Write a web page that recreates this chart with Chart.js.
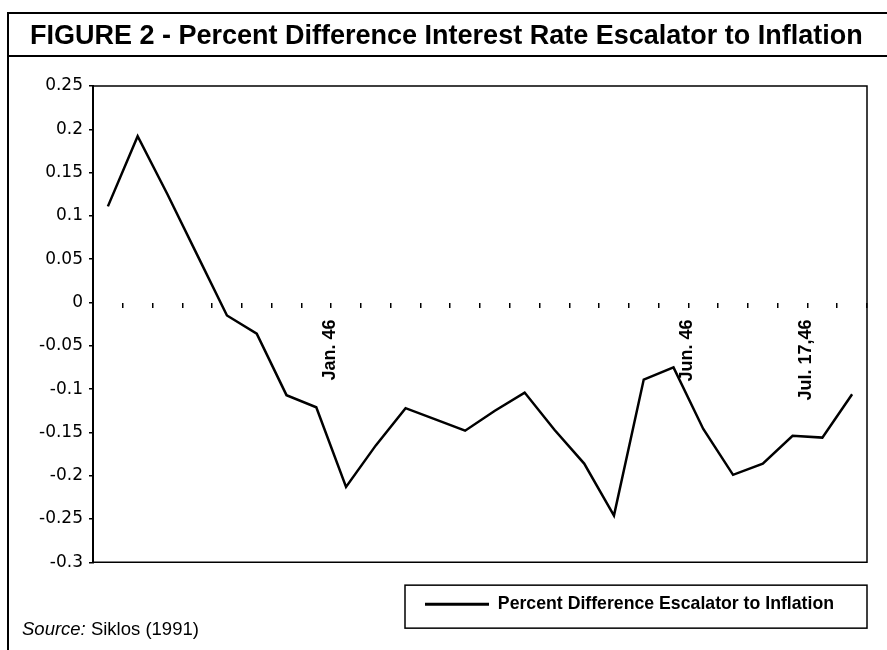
<!DOCTYPE html>
<html>
<head>
<meta charset="utf-8">
<script src="https://cdn.jsdelivr.net/npm/chart.js@4.4.1/dist/chart.umd.min.js"></script>
<style>
  html, body { margin: 0; padding: 0; background: #fff; }
  #wrap { position: relative; width: 887px; height: 650px; overflow: hidden; background: #fff; }
  #c { position: absolute; left: 0; top: 0; }
  .ln { position: absolute; background: #000; }
  #title { position: absolute; left: 30px; top: 22px; font-family: "Liberation Sans", Arial, sans-serif; font-weight: bold; font-size: 27px; line-height: 27px; color: #000; white-space: nowrap; }
  #source { position: absolute; left: 22px; top: 619px; font-family: "Liberation Sans", Arial, sans-serif; font-size: 18.5px; line-height: 19px; color: #000; white-space: nowrap; }
</style>
</head>
<body>
<div id="wrap">
  <canvas id="c" width="887" height="650"></canvas>
  <div class="ln" style="left:8px; top:12px; width:879px; height:2px;"></div>
  <div class="ln" style="left:8px; top:55px; width:879px; height:2px;"></div>
  <div class="ln" style="left:7px; top:12px; width:2px; height:638px;"></div>
  <div id="title">FIGURE 2 - Percent Difference Interest Rate Escalator to Inflation</div>
  <div id="source"><i>Source:</i> Siklos (1991)</div>
</div>
<script>
const categories = ['', '', '', '', '', '', '', '', 'Jan. 46', '', '', '', '', '', '', '', '', '', '', '', 'Jun. 46', '', '', '', 'Jul. 17,46', ''];
const values = [0.111, 0.192, 0.125, 0.055, -0.015, -0.036, -0.107, -0.121, -0.213, -0.165, -0.122, -0.135, -0.148, -0.125, -0.104, -0.147, -0.186, -0.246, -0.089, -0.075, -0.146, -0.199, -0.186, -0.154, -0.156, -0.106];
const seriesName = 'Percent Difference Escalator to Inflation';
const yMin = -0.3, yMax = 0.25, yStep = 0.05;

const frame = {
  id: 'frame',
  afterDraw(chart) {
    const ctx = chart.ctx, a = chart.chartArea;
    ctx.save();
    ctx.strokeStyle = '#000';
    ctx.lineWidth = 1.5;
    ctx.beginPath();
    ctx.moveTo(a.left, a.top); ctx.lineTo(a.right, a.top);
    ctx.lineTo(a.right, a.bottom); ctx.lineTo(a.left, a.bottom);
    ctx.stroke();
    const lg = chart.legend;
    if (lg && lg.legendHitBoxes && lg.legendHitBoxes.length) {
      const hb = lg.legendHitBoxes[0];
      const cy = hb.top + hb.height / 2;
      ctx.lineWidth = 1.5;
      ctx.strokeRect(hb.left - 20, cy - 19, lg.right - (hb.left - 20), 43);
    }
    ctx.restore();
  }
};

new Chart(document.getElementById('c'), {
  type: 'line',
  data: {
    labels: categories,
    datasets: [{
      label: seriesName,
      data: values,
      borderColor: '#000',
      backgroundColor: '#000',
      borderWidth: 2.5,
      pointRadius: 0,
      tension: 0,
      fill: false
    }]
  },
  options: {
    responsive: false,
    devicePixelRatio: 1,
    animation: false,
    layout: { padding: { left: 0, top: 86, right: 20, bottom: 27 } },
    plugins: {
      title: { display: false },
      tooltip: { enabled: false },
      legend: {
        display: true,
        position: 'bottom',
        align: 'end',
        labels: {
          color: '#000',
          font: { family: '"Liberation Sans", Arial, sans-serif', weight: 'bold', size: 17.7 },
          boxWidth: 64,
          boxHeight: 3,
          padding: 33,
          generateLabels(chart) {
            return chart.data.datasets.map((ds, i) => ({
              text: ds.label, fillStyle: '#000', strokeStyle: '#000', lineWidth: 0,
              hidden: false, datasetIndex: i, fontColor: '#000'
            }));
          }
        }
      }
    },
    scales: {
      x: {
        type: 'category',
        position: { y: 0 },
        offset: true,
        border: { display: false },
        grid: { offset: true, drawOnChartArea: false, drawTicks: true, tickLength: 5, color: '#000', lineWidth: 1.5 },
        ticks: {
          autoSkip: false, maxRotation: 90, minRotation: 90,
          color: '#000', padding: 12, labelOffset: -16,
          font: { family: '"Liberation Sans", Arial, sans-serif', weight: 'bold', size: 18 }
        }
      },
      y: {
        min: yMin, max: yMax,
        afterFit(s) { s.width = 93; },
        border: { display: true, color: '#000', width: 2 },
        grid: { drawOnChartArea: false, drawTicks: true, tickLength: 4, color: '#000', lineWidth: 1.5 },
        ticks: {
          stepSize: yStep, color: '#000', padding: 6,
          font: { family: '"DejaVu Sans", sans-serif', size: 17 },
          callback: (v) => String(Math.round(v * 100) / 100)
        }
      }
    }
  },
  plugins: [frame]
});
</script>
</body>
</html>
